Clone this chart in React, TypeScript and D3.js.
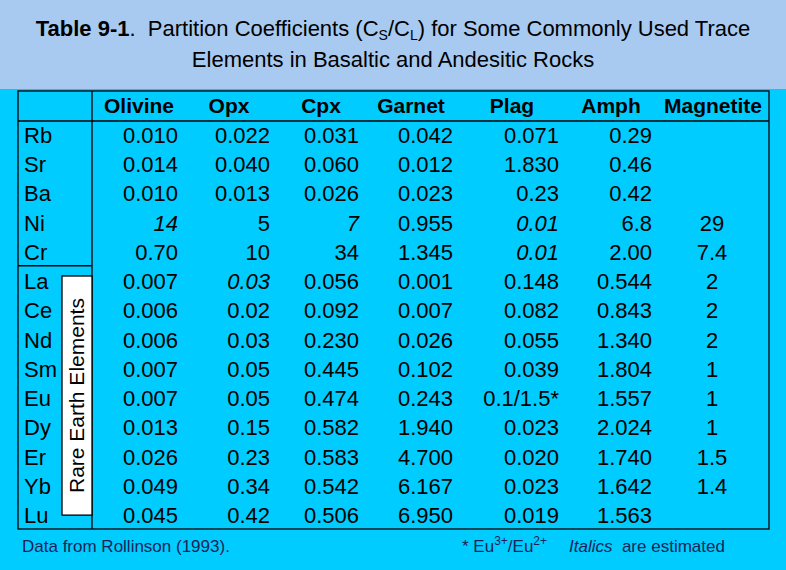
import React from "react";
import * as d3 from "d3";

// ---- data ----
const elements = ["Rb", "Sr", "Ba", "Ni", "Cr", "La", "Ce", "Nd", "Sm", "Eu", "Dy", "Er", "Yb", "Lu"];
const minerals = ["Olivine", "Opx", "Cpx", "Garnet", "Plag", "Amph", "Magnetite"];
const olivine = ["0.010", "0.014", "0.010", "14", "0.70", "0.007", "0.006", "0.006", "0.007", "0.007", "0.013", "0.026", "0.049", "0.045"];
const opx = ["0.022", "0.040", "0.013", "5", "10", "0.03", "0.02", "0.03", "0.05", "0.05", "0.15", "0.23", "0.34", "0.42"];
const cpx = ["0.031", "0.060", "0.026", "7", "34", "0.056", "0.092", "0.230", "0.445", "0.474", "0.582", "0.583", "0.542", "0.506"];
const garnet = ["0.042", "0.012", "0.023", "0.955", "1.345", "0.001", "0.007", "0.026", "0.102", "0.243", "1.940", "4.700", "6.167", "6.950"];
const plag = ["0.071", "1.830", "0.23", "0.01", "0.01", "0.148", "0.082", "0.055", "0.039", "0.1/1.5*", "0.023", "0.020", "0.023", "0.019"];
const amph = ["0.29", "0.46", "0.42", "6.8", "2.00", "0.544", "0.843", "1.340", "1.804", "1.557", "2.024", "1.740", "1.642", "1.563"];
const magnetite = ["", "", "", "29", "7.4", "2", "2", "2", "1", "1", "1", "1.5", "1.4", ""];
const estimated: [string, string][] = [["Ni", "Olivine"], ["Ni", "Cpx"], ["Ni", "Plag"], ["Cr", "Plag"], ["La", "Opx"]];
const reeElements = ["La", "Ce", "Nd", "Sm", "Eu", "Dy", "Er", "Yb", "Lu"];

const columns = [olivine, opx, cpx, garnet, plag, amph, magnetite];

// ---- layout ----
const W = 786, H = 570;
const FONT = "Arial, 'Liberation Sans', Helvetica, sans-serif";
const BAND = "#A8CAF0";
const CYAN = "#00CCFF";
const FOOT = "#1a2456";
const FS = 22;
const tableLeft = 18, tableRight = 769, tableTop = 91, tableBottom = 529;
const headerLine = 121, firstColRight = 92;
const valueAnchors = [178, 270, 359, 453, 559, 652, 712];
const headerCenters = [139, 229, 321, 411, 512, 611, 713];

export default function App() {
  const y = d3.scalePoint<string>().domain(elements).range([143, 523]);
  const xVal = d3.scaleOrdinal<string, number>().domain(minerals).range(valueAnchors);
  const xHead = d3.scaleOrdinal<string, number>().domain(minerals).range(headerCenters);
  const step = y.step();
  const reeTop = (y(reeElements[0]) as number) - step * 0.45;
  const reeBottom = (y(reeElements[reeElements.length - 1]) as number) - step * 0.27;
  const sepY = (y("Cr") as number) + step * 0.2;
  const isItalic = (el: string, m: string) => estimated.some(([a, b]) => a === el && b === m);

  return (
    <svg width={W} height={H} style={{ position: "absolute", left: 0, top: 0, fontFamily: FONT }}>
      <rect x={0} y={0} width={W} height={H} fill={CYAN} />
      <rect x={0} y={0} width={W} height={89} fill={BAND} />
      {/* title */}
      <text x={393} y={36} textAnchor="middle" fontSize={FS} fill="#000" xmlSpace="preserve">
        <tspan fontWeight="bold">Table 9-1</tspan>
        <tspan>{".  Partition Coefficients (C"}</tspan>
        <tspan fontSize={14} dy={4}>S</tspan>
        <tspan dy={-4}>/C</tspan>
        <tspan fontSize={14} dy={4}>L</tspan>
        <tspan dy={-4}>) for Some Commonly Used Trace</tspan>
      </text>
      <text x={393} y={67} textAnchor="middle" fontSize={FS} fill="#000">
        Elements in Basaltic and Andesitic Rocks
      </text>

      {/* table frame */}
      <g stroke="#000" strokeWidth={1.3} fill="none">
        <rect x={tableLeft} y={tableTop} width={tableRight - tableLeft} height={tableBottom - tableTop} />
        <line x1={tableLeft} x2={tableRight} y1={headerLine} y2={headerLine} />
        <line x1={firstColRight} x2={firstColRight} y1={tableTop} y2={tableBottom} />
        <line x1={tableLeft} x2={firstColRight} y1={sepY} y2={sepY} />
        <rect x={62} y={reeTop} width={firstColRight - 62} height={reeBottom - reeTop} fill="#fff" />
      </g>
      <text
        transform={`translate(84,${(reeTop + reeBottom) / 2}) rotate(-90)`}
        textAnchor="middle"
        fontSize={21}
        fill="#000"
      >
        Rare Earth Elements
      </text>

      {/* headers */}
      {minerals.map((m) => (
        <text key={m} x={xHead(m)} y={113} textAnchor="middle" fontSize={21} fontWeight="bold" fill="#000">
          {m}
        </text>
      ))}

      {/* row labels */}
      {elements.map((el) => (
        <text key={el} x={24} y={y(el)} fontSize={FS} fill="#000">
          {el}
        </text>
      ))}

      {/* values */}
      {minerals.map((m, ci) =>
        elements.map((el, ri) => (
          <text
            key={m + el}
            x={xVal(m)}
            y={y(el)}
            textAnchor={m === "Magnetite" ? "middle" : "end"}
            fontSize={FS}
            fontStyle={isItalic(el, m) ? "italic" : "normal"}
            fill="#000"
          >
            {columns[ci][ri]}
          </text>
        ))
      )}

      {/* footer */}
      <text x={22} y={552} fontSize={17} fill={FOOT}>
        Data from Rollinson (1993).
      </text>
      <text x={462} y={552} fontSize={17} fill={FOOT} xmlSpace="preserve">
        <tspan>* Eu</tspan>
        <tspan fontSize={12} dy={-7}>3+</tspan>
        <tspan dy={7}>/Eu</tspan>
        <tspan fontSize={12} dy={-7}>2+</tspan>
      </text>
      <text x={569} y={552} fontSize={17} fill={FOOT} xmlSpace="preserve">
        <tspan fontStyle="italic">Italics</tspan>
        <tspan>{"  are estimated"}</tspan>
      </text>
    </svg>
  );
}
